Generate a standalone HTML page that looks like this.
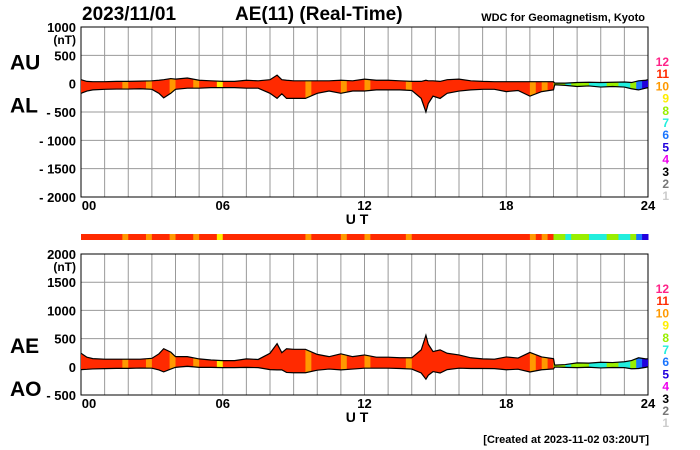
<!DOCTYPE html>
<html><head><meta charset="utf-8"><style>
body{margin:0;background:#fff;}
svg{display:block;font-family:"Liberation Sans",Arial,sans-serif;font-weight:bold;}
</style></head><body>
<svg id="c" width="700" height="450"></svg>
<script>
const times=[0,0.25,0.5,1,1.5,2,2.5,3,3.3,3.5,3.8,4,4.5,5,5.5,6,6.5,7,7.5,8,8.3,8.5,8.7,9,9.5,10,10.5,11,11.5,12,12.5,13,13.5,14,14.4,14.6,14.7,14.9,15.2,15.5,16,16.5,17,17.5,18,18.5,19,19.5,20,20.05,20.5,21,21.5,22,22.5,23,23.3,23.6,23.9,24];
const auVals=[70,40,35,35,40,40,45,50,60,70,90,80,100,60,50,40,40,60,50,70,150,70,60,50,50,50,50,60,50,80,60,60,50,40,40,60,50,50,40,70,80,50,40,35,35,35,35,35,35,10,10,20,25,20,25,30,20,50,60,70];
const alVals=[-170,-130,-110,-100,-95,-95,-90,-100,-170,-250,-170,-100,-80,-80,-70,-70,-70,-80,-80,-170,-260,-180,-260,-260,-260,-170,-130,-170,-130,-130,-110,-110,-110,-120,-260,-500,-350,-220,-260,-170,-130,-110,-100,-100,-140,-120,-220,-140,-110,-20,-30,-50,-40,-60,-50,-60,-90,-110,-80,-70];
const colorIdx=[11,11,11,11,11,11,11,10,11,11,11,10,11,11,11,10,11,11,11,10,11,11,11,9,11,11,11,11,11,11,11,11,11,11,11,11,11,11,10,11,11,11,11,11,10,11,11,11,10,11,11,11,11,11,11,10,11,11,11,11,11,11,11,11,11,11,11,11,11,11,11,11,11,11,11,11,10,11,10,11,8,8,7,8,8,8,7,7,7,8,8,7,7,8,6,5];
const legendNums=[12,11,10,9,8,7,6,5,4,3,2,1];
const palette={12:"#ff2288",11:"#ff2a00",10:"#ff9900",9:"#ffee00",8:"#99ee00",7:"#22eedd",6:"#1a75ff",5:"#2200dd",4:"#ee00ee",3:"#000000",2:"#777777",1:"#cccccc"};
const topTicks=[1000,500,0,-500,-1000,-1500,-2000];
const botTicks=[2000,1500,1000,500,0,-500];
const xTicks=["00","06","12","18","24"];

const NS="http://www.w3.org/2000/svg",svg=document.getElementById("c");
function mk(t,a,p){const e=document.createElementNS(NS,t);for(const k in a)e.setAttribute(k,a[k]);(p||svg).appendChild(e);return e;}
function txt(s,x,y,size,anchor,fill,name){const e=mk("text",{x:x,y:y,"font-size":size,"text-anchor":anchor||"start",fill:fill||"#000"});e.textContent=s;return e;}
const X0=81,X1=648,xs=h=>X0+(X1-X0)*h/24;

function panel(id,yTop,yBot,vmax,vmin,ticks,upper,lower,labels){
  const ys=v=>yTop+(vmax-v)/(vmax-vmin)*(yBot-yTop);
  const g=mk("g",{});
  for(let h=0;h<=24;h++){const l=mk("line",{x1:xs(h),x2:xs(h),y1:yTop,y2:yBot,stroke:"#999","stroke-width":1},g);}
  ticks.forEach(v=>{const l=mk("line",{x1:X0,x2:X1,y1:ys(v),y2:ys(v),stroke:"#999","stroke-width":1},g);
    const s=v<0?"- "+(-v):String(v);txt(s,76,ys(v)+5,13,"end","#000","y-tick-label");});
  txt("(nT)",76,ys(ticks[0])+17,12,"end","#000","y-unit-label");
  const border=mk("rect",{x:X0,y:yTop,width:X1-X0,height:yBot-yTop,fill:"none",stroke:"#000","stroke-width":1},g);
  let pts=times.map((t,i)=>xs(t)+","+ys(upper[i]));
  for(let i=times.length-1;i>=0;i--)pts.push(xs(times[i])+","+ys(lower[i]));
  const cp=mk("clipPath",{id:"clip-"+id},g);mk("polygon",{points:pts.join(" ")},cp);
  const cg=mk("g",{"clip-path":"url(#clip-"+id+")"},g);
  colorIdx.forEach((c,i)=>{const r=mk("rect",{x:xs(i*0.25),y:yTop,width:xs(0.25)-X0+0.5,height:yBot-yTop,fill:palette[c]},cg);});
  const ln=mk("polyline",{points:times.map((t,i)=>xs(t)+","+ys(upper[i])).join(" "),fill:"none",stroke:"#000","stroke-width":1.2},g);
  const ln2=mk("polyline",{points:times.map((t,i)=>xs(t)+","+ys(lower[i])).join(" "),fill:"none",stroke:"#000","stroke-width":1.2},g);
  xTicks.forEach((s,i)=>txt(s,xs(i*6)+(i==0?8:0),yBot+13,13,"middle","#000","x-tick-label"));
  txt("U T",357,yBot+27,14,"middle","#000","x-axis-title");
  txt(labels[0],10,ys(0)-14,21,"start","#000","series-label-"+labels[0].toLowerCase());
  txt(labels[1],10,ys(0)+29,21,"start","#000","series-label-"+labels[1].toLowerCase());
  legendNums.forEach((n,i)=>txt(String(n),669,yTop+39+i*12.2,12,"end",palette[n],"legend-level-"+n));
}
txt("2023/11/01",82,20,19,"start","#000","date-title");
txt("AE(11) (Real-Time)",235,20,19,"start","#000","chart-title");
txt("WDC for Geomagnetism, Kyoto",645,21,11,"end","#000","source-label");
panel("top",27,197,1000,-2000,topTicks,auVals,alVals,["AU","AL"]);
const ae=auVals.map((u,i)=>u-alVals[i]),ao=auVals.map((u,i)=>(u+alVals[i])/2);
panel("bottom",254,395,2000,-500,botTicks,ae,ao,["AE","AO"]);
colorIdx.forEach((c,i)=>{const r=mk("rect",{x:xs(i*0.25),y:234,width:xs(0.25)-X0+0.5,height:6,fill:palette[c]});});
txt("[Created at 2023-11-02 03:20UT]",649,443,11,"end","#000","created-timestamp");
</script>
</body></html>
